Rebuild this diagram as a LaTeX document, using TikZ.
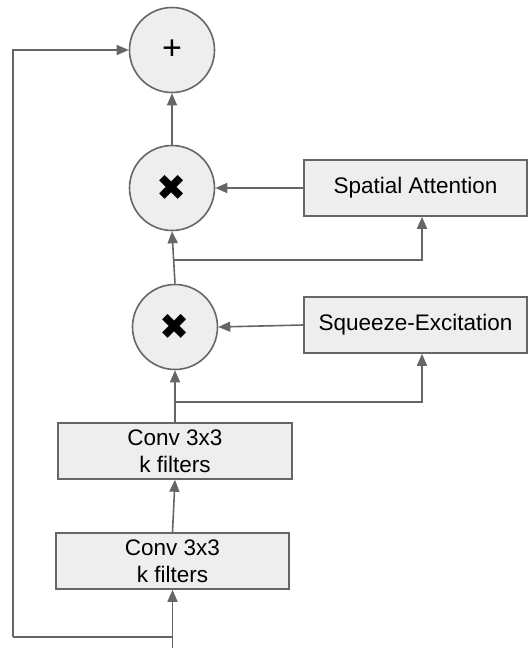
\documentclass[tikz,border=0pt]{standalone}
\usepackage{fontspec}
\setmainfont{Liberation Sans}
\newfontfamily\symfont{DejaVu Sans}
\usetikzlibrary{arrows.meta,calc}
\definecolor{edgegray}{HTML}{666666}
\definecolor{boxfill}{HTML}{EEEEEE}
\begin{document}
\begin{tikzpicture}[x=1pt,y=-1pt,
  every node/.style={font=\fontsize{22.5}{27}\selectfont, text=black},
  opcircle/.style={circle, draw=edgegray, fill=boxfill, line width=1.6pt, minimum size=85pt, inner sep=0pt},
  blockbox/.style={rectangle, draw=edgegray, fill=boxfill, line width=1.6pt, minimum height=56pt, align=center, inner sep=0pt},
  link/.style={draw=edgegray, line width=1.6pt},
  flow/.style={link, -{Triangle[length=12pt,width=10pt]}}]
\useasboundingbox (0,0) rectangle (529,648);

% operators
\node[opcircle] (plus) at (172,50) {\fontsize{34}{34}\selectfont +};
\node[opcircle] (mul1) at (172,188) {\symfont\fontsize{36}{36}\selectfont ✖};
\node[opcircle] (mul2) at (175,327) {\symfont\fontsize{36}{36}\selectfont ✖};

% attention blocks
\node[blockbox, minimum width=223pt] (sa) at (415.5,188) {Spatial Attention};
\node[blockbox, minimum width=223pt] (se) at (415.5,325) {Squeeze-Excitation};

% convolutions
\node[blockbox, minimum width=234pt] (conv1) at (175,451) {Conv 3x3\\k filters};
\node[blockbox, minimum width=233pt] (conv2) at (172.5,561) {Conv 3x3\\k filters};

% input and branch points
\coordinate (in) at (172.5,648);
\coordinate (skip) at (172.5,637);
\coordinate (skipcorner) at (13,637);
\coordinate (s1) at (175,402);
\coordinate (s2) at (174,260);

% main path
\draw[flow] (in) -- (conv2.south);
\draw[flow] (conv2.north) -- (conv1.south);
\draw[flow] (conv1.north) -- (mul2.south);
\draw[flow] (mul2.north) -- (mul1.south);
\draw[flow] (mul1.north) -- (plus.south);

% attention branches
\draw[flow] (s1) -| ($(se.south)+(6.5,0)$);
\draw[flow] (s2) -| ($(sa.south)+(6.5,0)$);
\draw[flow] (se.west) -- (mul2.east);
\draw[flow] (sa.west) -- (mul1.east);

% residual connection
\draw[link] (skip) -- (skipcorner);
\draw[flow] (skipcorner) |- (plus.west);
\end{tikzpicture}
\end{document}
